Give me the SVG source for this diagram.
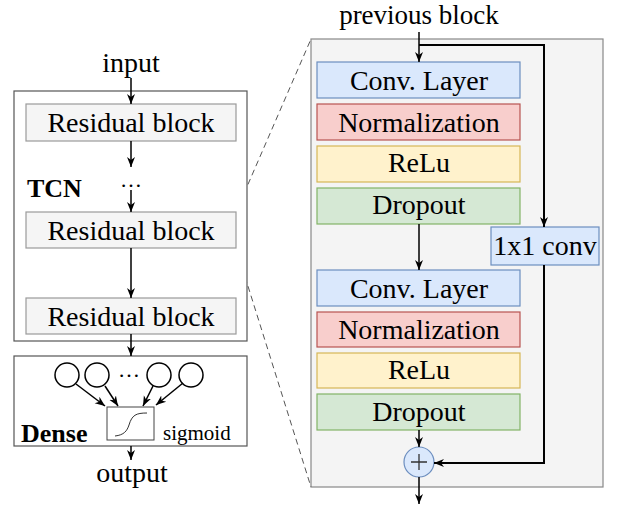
<svg xmlns="http://www.w3.org/2000/svg" width="619" height="508" viewBox="0 0 619 508" font-family="Liberation Serif, Tinos, DejaVu Serif, serif">
<style>
text{font-family:'Liberation Serif','Tinos','DejaVu Serif',serif;fill:#000;}
.t{font-size:28px;text-anchor:middle;}
.res{fill:#f5f5f5;stroke:#9a9a9a;stroke-width:1.2;}
.frame{fill:#fff;stroke:#555;stroke-width:1.2;}
.conv{fill:#dae8fc;stroke:#6c8ebf;stroke-width:1.2;}
.norm{fill:#f8cecc;stroke:#b85450;stroke-width:1.2;}
.relu{fill:#fff2cc;stroke:#d6b656;stroke-width:1.2;}
.drop{fill:#d5e8d4;stroke:#82b366;stroke-width:1.2;}
.ln{fill:none;stroke:#000;stroke-width:1.5;}
.lnb{fill:none;stroke:#000;stroke-width:2;}
.dash{fill:none;stroke:#555;stroke-width:1;stroke-dasharray:6,4;}
</style>
<defs>
<marker id="ah" viewBox="0 0 10 10" refX="10" refY="5" markerWidth="10" markerHeight="10" markerUnits="userSpaceOnUse" orient="auto">
<path d="M0,1 L10,5 L0,9 L3,5 z" fill="#000"/>
</marker>
</defs>

<g id="block-panel">
<rect x="311" y="39" width="292" height="448" fill="#f4f4f4" stroke="#888" stroke-width="1.2"/>
</g>

<g id="zoom-lines">
<line class="dash" x1="236" y1="212" x2="311" y2="39"/>
<line class="dash" x1="236" y1="248" x2="311" y2="487"/>
</g>

<g id="tcn">
<rect class="frame" x="14" y="91" width="233" height="250"/>
<text x="27" y="197" style="font-size:26px;font-weight:bold">TCN</text>
<text x="131" y="187" style="font-size:22px;text-anchor:middle">…</text>
</g>
<g id="res1"><rect class="res" x="26" y="104" width="210" height="37"/><text class="t" x="131" y="132">Residual block</text></g>
<g id="res2"><rect class="res" x="26" y="212" width="210" height="36"/><text class="t" x="131" y="240">Residual block</text></g>
<g id="res3"><rect class="res" x="26" y="298" width="210" height="36"/><text class="t" x="131" y="326">Residual block</text></g>

<g id="dense">
<rect class="frame" x="14" y="356" width="233" height="90"/>
<circle cx="67" cy="375" r="12" fill="#fff" stroke="#000" stroke-width="1.5"/>
<circle cx="97" cy="375" r="12" fill="#fff" stroke="#000" stroke-width="1.5"/>
<circle cx="159" cy="375" r="12" fill="#fff" stroke="#000" stroke-width="1.5"/>
<circle cx="191" cy="375" r="12" fill="#fff" stroke="#000" stroke-width="1.5"/>
<text x="129" y="377" style="font-size:22px;text-anchor:middle">…</text>
<text x="21" y="442" style="font-size:26px;font-weight:bold">Dense</text>
<text x="163" y="440" style="font-size:21px">sigmoid</text>
</g>
<g id="sigmoid">
<rect x="107" y="407" width="47" height="33" fill="#fff" stroke="#444" stroke-width="1"/>
<path d="M115,436 C124,435 127,431 129,425 C132,415 136,413 147,413" fill="none" stroke="#333" stroke-width="1"/>
</g>

<g id="labels">
<text class="t" x="131" y="72">input</text>
<text class="t" x="132" y="482">output</text>
<text x="419" y="24" style="font-size:27px;text-anchor:middle">previous block</text>
</g>

<g id="conv1"><rect class="conv" x="317" y="62" width="203" height="36"/><text class="t" x="419" y="90">Conv. Layer</text></g>
<g id="norm1"><rect class="norm" x="317" y="104" width="203" height="36"/><text class="t" x="419" y="132">Normalization</text></g>
<g id="relu1"><rect class="relu" x="317" y="146" width="203" height="36"/><text class="t" x="419" y="172">ReLu</text></g>
<g id="drop1"><rect class="drop" x="317" y="188" width="203" height="36"/><text class="t" x="419" y="214">Dropout</text></g>
<g id="conv2"><rect class="conv" x="317" y="270" width="203" height="36"/><text class="t" x="419" y="298">Conv. Layer</text></g>
<g id="norm2"><rect class="norm" x="317" y="312" width="203" height="35"/><text class="t" x="419" y="339">Normalization</text></g>
<g id="relu2"><rect class="relu" x="317" y="353" width="203" height="35"/><text class="t" x="419" y="379">ReLu</text></g>
<g id="drop2"><rect class="drop" x="317" y="394" width="203" height="36"/><text class="t" x="419" y="421">Dropout</text></g>
<g id="conv1x1"><rect class="conv" x="491" y="227" width="108" height="38"/><text class="t" x="545" y="255">1x1 conv</text></g>
<g id="add">
<circle cx="419" cy="462" r="15" fill="#dae8fc" stroke="#6c8ebf" stroke-width="1.2"/>
<path d="M411,462 H427 M419,454 V470" stroke="#333" stroke-width="1.3"/>
</g>

<g id="connectors">
<path class="ln" d="M131,78 V104" marker-end="url(#ah)"/>
<path class="ln" d="M131,141 V167" marker-end="url(#ah)"/>
<path class="ln" d="M131,190 V212" marker-end="url(#ah)"/>
<path class="ln" d="M131,248 V298" marker-end="url(#ah)"/>
<path class="ln" d="M131,334 V356" marker-end="url(#ah)"/>
<path class="ln" d="M131,446 V460" marker-end="url(#ah)"/>
<path class="ln" d="M76,384 L105,406" marker-end="url(#ah)"/>
<path class="ln" d="M105,386 L118,406" marker-end="url(#ah)"/>
<path class="ln" d="M153,386 L143,406" marker-end="url(#ah)"/>
<path class="ln" d="M183,383 L156,405" marker-end="url(#ah)"/>
<path class="ln" d="M419,32 V62" marker-end="url(#ah)"/>
<path class="lnb" d="M419,45 H544 V227" marker-end="url(#ah)"/>
<path class="lnb" d="M544,265 V463 H434" marker-end="url(#ah)"/>
<path class="ln" d="M419,224 V270" marker-end="url(#ah)"/>
<path class="ln" d="M419,430 V447" marker-end="url(#ah)"/>
<path class="ln" d="M419,477 V504" marker-end="url(#ah)"/>
</g>
</svg>
